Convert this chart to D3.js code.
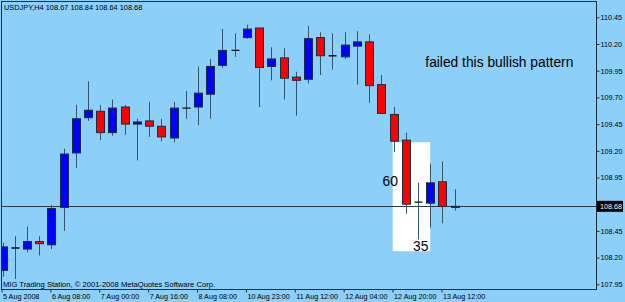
<!DOCTYPE html>
<html>
<head>
<meta charset="utf-8">
<script src="https://cdn.jsdelivr.net/npm/d3@7/dist/d3.min.js"></script>
<style>
  html, body { margin: 0; padding: 0; background: #8ccff8; }
  svg { display: block; }
  text { font-family: "Liberation Sans", Arial, sans-serif; }
</style>
</head>
<body>
<div id="chart"></div>
<script>
/* USDJPY H4 candles, 5-13 Aug 2008, MT4 look: blue up / red down on sky blue,
   price scale on the right, white box + notes round the last few bars. */

// ---- data ----
var barTimes = [
  "5 Aug 16:00", "5 Aug 20:00", "6 Aug 00:00", "6 Aug 04:00", "6 Aug 08:00", "6 Aug 12:00",
  "6 Aug 16:00", "6 Aug 20:00", "7 Aug 00:00", "7 Aug 04:00", "7 Aug 08:00", "7 Aug 12:00",
  "7 Aug 16:00", "7 Aug 20:00", "8 Aug 00:00", "8 Aug 04:00", "8 Aug 08:00", "8 Aug 12:00",
  "8 Aug 16:00", "8 Aug 20:00", "10 Aug 23:00", "11 Aug 00:00", "11 Aug 04:00", "11 Aug 08:00",
  "11 Aug 12:00", "11 Aug 16:00", "11 Aug 20:00", "12 Aug 00:00", "12 Aug 04:00", "12 Aug 08:00",
  "12 Aug 12:00", "12 Aug 16:00", "12 Aug 20:00", "13 Aug 00:00", "13 Aug 04:00", "13 Aug 08:00",
  "13 Aug 12:00", "13 Aug 16:00"
];
var openP  = [108.08, 108.29, 108.28, 108.35, 108.32, 108.67, 109.18, 109.51, 109.57, 109.37,
              109.61, 109.45, 109.48, 109.43, 109.32, 109.60, 109.61, 109.73, 110.00, 110.14,
              110.26, 110.35, 109.99, 110.07, 109.89, 109.87, 110.26, 110.09, 110.08, 110.18,
              110.22, 109.82, 109.54, 109.30, 108.72, 108.71, 108.91, 108.67];
var highP  = [108.34, 108.40, 108.49, 108.40, 108.69, 109.22, 109.63, 109.85, 109.63, 109.68,
              109.63, 109.50, 109.66, 109.50, 109.66, 109.76, 109.99, 110.06, 110.34, 110.30,
              110.38, 110.35, 110.17, 110.16, 109.94, 110.37, 110.31, 110.30, 110.31, 110.32,
              110.29, 109.91, 109.61, 109.37, 108.90, 109.08, 109.10, 108.84];
var lowP   = [108.02, 108.00, 108.25, 108.22, 108.28, 108.45, 109.04, 109.48, 109.30, 109.34,
              109.35, 109.11, 109.33, 109.29, 109.28, 109.50, 109.44, 109.50, 109.98, 110.08,
              110.25, 109.61, 109.86, 109.68, 109.53, 109.83, 109.91, 109.96, 110.06, 109.82,
              109.65, 109.55, 109.19, 108.61, 108.37, 108.48, 108.52, 108.64];
var closeP = [108.30, 108.29, 108.35, 108.33, 108.66, 109.17, 109.50, 109.58, 109.37, 109.60,
              109.45, 109.47, 109.43, 109.33, 109.60, 109.60, 109.74, 109.99, 110.14, 110.14,
              110.34, 109.98, 110.06, 109.88, 109.86, 110.25, 110.09, 110.09, 110.19, 110.22,
              109.81, 109.55, 109.29, 108.70, 108.72, 108.90, 108.68, 108.68];

// 108.70 sits under the last-price tag, so it is left out
var priceTicks = [110.45, 110.20, 109.95, 109.70, 109.45, 109.20, 108.95, 108.45, 108.20, 107.95];
var timeTicks  = ["5 Aug 16:00", "6 Aug 08:00", "7 Aug 00:00", "7 Aug 16:00", "8 Aug 08:00",
                  "10 Aug 23:00", "11 Aug 12:00", "12 Aug 04:00", "12 Aug 20:00", "13 Aug 12:00"];
var timeTickLabels = ["5 Aug 2008", "6 Aug 08:00", "7 Aug 00:00", "7 Aug 16:00", "8 Aug 08:00",
                      "10 Aug 23:00", "11 Aug 12:00", "12 Aug 04:00", "12 Aug 20:00", "13 Aug 12:00"];

var symbolTitle = "USDJPY,H4  108.67 108.84 108.64 108.68";
var lastPrice = 108.68;
var copyright = "MIG Trading Station, \u00a9 2001-2008 MetaQuotes Software Corp.";

// highlight box + notes, in bar-index / price units
var boxBars = [31.93, 35.0], boxPrices = [109.28, 108.26];
var notes = [
  { text: "60", bar: 31.1, price: 108.92 },
  { text: "35", bar: 33.6, price: 108.31 },
  { text: "failed this bullish pattern", bar: 34.6, price: 110.03 }
];

(function () {
  "use strict";
  var W = 625, H = 302;
  var plot = { left: 1.5, top: 1.5, right: 596.5, bottom: 289.5 };

  var svg = d3.select("#chart").append("svg").attr("width", W).attr("height", H);
  svg.append("rect").attr("width", W).attr("height", H).attr("fill", "#8ccff8");

  var bars = barTimes.map(function (t, i) {
    return { t: t, i: i, o: openP[i], h: highP[i], l: lowP[i], c: closeP[i] };
  });

  var x = d3.scalePoint().domain(barTimes).range([2.5, 2.5 + 37 * 12.22]);
  var xi = d3.scaleLinear().domain([0, barTimes.length - 1]).range(x.range());
  var y = d3.scaleLinear().domain([107.95, 110.45]).range([284.3, 17.3]);

  svg.append("clipPath").attr("id", "plotclip").append("rect")
    .attr("x", plot.left).attr("y", plot.top)
    .attr("width", plot.right - plot.left).attr("height", plot.bottom - plot.top);
  var g = svg.append("g").attr("clip-path", "url(#plotclip)");

  // ---- highlight box ----
  g.append("rect")
    .attr("x", xi(boxBars[0])).attr("y", y(boxPrices[0]))
    .attr("width", xi(boxBars[1]) - xi(boxBars[0]))
    .attr("height", y(boxPrices[1]) - y(boxPrices[0]))
    .attr("fill", "#ffffff");

  // ---- last price line ----
  g.append("line")
    .attr("x1", plot.left).attr("x2", plot.right)
    .attr("y1", Math.round(y(lastPrice)) + 0.5).attr("y2", Math.round(y(lastPrice)) + 0.5)
    .attr("stroke", "#2b3a44").attr("stroke-width", 1);

  // ---- candles ----
  var bw = 8;
  var cg = g.selectAll(".candle").data(bars).enter().append("g").attr("class", "candle");
  cg.append("line")
    .attr("x1", function (d) { return Math.round(x(d.t)) + 0.5; })
    .attr("x2", function (d) { return Math.round(x(d.t)) + 0.5; })
    .attr("y1", function (d) { return y(d.h); }).attr("y2", function (d) { return y(d.l); })
    .attr("stroke", "#34566a").attr("stroke-width", 1);
  cg.filter(function (d) { return d.o !== d.c; }).append("rect")
    .attr("x", function (d) { return Math.round(x(d.t)) + 0.5 - bw / 2; })
    .attr("y", function (d) { return y(Math.max(d.o, d.c)); })
    .attr("width", bw)
    .attr("height", function (d) { return Math.max(1, Math.abs(y(d.o) - y(d.c))); })
    .attr("fill", function (d) { return d.c > d.o ? "#0000ff" : "#ff0000"; })
    .attr("stroke", "#1c2c3c").attr("stroke-width", 1);
  cg.filter(function (d) { return d.o === d.c; }).append("line")
    .attr("x1", function (d) { return Math.round(x(d.t)) + 0.5 - bw / 2; })
    .attr("x2", function (d) { return Math.round(x(d.t)) + 0.5 + bw / 2; })
    .attr("y1", function (d) { return y(d.o); }).attr("y2", function (d) { return y(d.o); })
    .attr("stroke", "#111111").attr("stroke-width", 1.3);

  // ---- notes ----
  g.selectAll(".note").data(notes).enter().append("text")
    .attr("x", function (d) { return xi(d.bar); })
    .attr("y", function (d) { return y(d.price); })
    .attr("dy", "0.36em").attr("font-size", 13.8).attr("fill", "#000")
    .text(function (d) { return d.text; });

  // ---- frame ----
  svg.append("rect")
    .attr("x", plot.left).attr("y", plot.top)
    .attr("width", plot.right - plot.left).attr("height", plot.bottom - plot.top)
    .attr("fill", "none").attr("stroke", "#1e2e38").attr("stroke-width", 1);

  // ---- price axis (right) ----
  var ya = svg.append("g").attr("transform", "translate(" + plot.right + ",0)")
    .call(d3.axisRight(y).tickValues(priceTicks).tickSizeInner(3).tickSizeOuter(0).tickPadding(1)
      .tickFormat(function (d) { return d.toFixed(2); }));
  ya.select(".domain").remove();
  ya.selectAll("line").attr("stroke", "#1e2e38");
  ya.selectAll("text").attr("font-size", 7.2).attr("fill", "#000")
    .attr("font-family", "'Liberation Sans', Arial, sans-serif");

  // current price tag
  var py = y(lastPrice);
  svg.append("rect").attr("x", 597).attr("y", py - 5.5).attr("width", 26).attr("height", 11)
    .attr("fill", "#000");
  svg.append("text").attr("x", 600).attr("y", py).attr("dy", "0.35em")
    .attr("font-size", 7.2).attr("fill", "#fff").text(lastPrice.toFixed(2));

  // ---- time axis (bottom) ----
  var xa = svg.append("g").attr("transform", "translate(-1," + plot.bottom + ")")
    .call(d3.axisBottom(x).tickValues(timeTicks).tickSizeInner(3).tickSizeOuter(0).tickPadding(1)
      .tickFormat(function (d) { return timeTickLabels[timeTicks.indexOf(d)]; }));
  xa.select(".domain").remove();
  xa.selectAll("line").attr("stroke", "#1e2e38");
  xa.selectAll("text").attr("font-size", 7.2).attr("fill", "#000").attr("text-anchor", "start")
    .attr("dx", 1).attr("font-family", "'Liberation Sans', Arial, sans-serif");

  // ---- title + copyright ----
  svg.append("text").attr("x", 4).attr("y", 10).attr("font-size", 7.4).attr("fill", "#000")
    .text(symbolTitle);
  svg.append("text").attr("x", 3).attr("y", 286.5).attr("font-size", 7.6).attr("fill", "#000")
    .text(copyright);
})();
</script>
</body>
</html>
